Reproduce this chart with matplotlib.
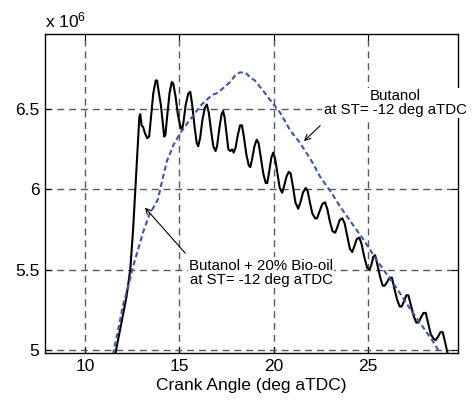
import numpy as np
import matplotlib
matplotlib.use("Agg")
import matplotlib.pyplot as plt

plt.rcParams['font.family'] = ['Liberation Sans', 'DejaVu Sans']
plt.rcParams['mathtext.fontset'] = 'custom'
plt.rcParams['mathtext.rm'] = 'Liberation Sans'
plt.rcParams['mathtext.it'] = 'Liberation Sans'

# Butanol + 20% Bio-oil (pressure, x 10^6)
blend_angle = [11.6, 11.9, 12.2, 12.4, 12.55, 12.68, 12.8, 12.88, 12.93, 13.0, 13.08, 13.18, 13.3, 13.4,
               13.5, 13.62, 13.75, 13.82, 13.92, 14.02, 14.1, 14.2, 14.26, 14.35, 14.48, 14.6, 14.68,
               14.8, 14.92, 15.04, 15.14, 15.22, 15.34, 15.48, 15.58, 15.68, 15.8, 15.92, 16.0, 16.1,
               16.22, 16.35, 16.46, 16.56, 16.68, 16.8, 16.92, 17.0, 17.12, 17.24, 17.32, 17.4, 17.5,
               17.6, 17.7, 17.8, 17.88, 17.98, 18.1, 18.22, 18.32, 18.42, 18.55, 18.68, 18.76, 18.86,
               18.98, 19.1, 19.2, 19.32, 19.45, 19.58, 19.66, 19.76, 19.88, 19.98, 20.08, 20.2, 20.32,
               20.45, 20.55, 20.68, 20.8, 20.9, 21.02, 21.15, 21.3, 21.42, 21.55, 21.7, 21.8, 21.92,
               22.05, 22.2, 22.3, 22.42, 22.58, 22.72, 22.84, 22.98, 23.12, 23.26, 23.36, 23.5, 23.64,
               23.76, 23.9, 24.04, 24.16, 24.26, 24.4, 24.54, 24.66, 24.8, 24.96, 25.08, 25.18, 25.28,
               25.38, 25.5, 25.65, 25.78, 25.88, 26.0, 26.14, 26.27, 26.4, 26.55, 26.68, 26.78, 26.9,
               27.03, 27.14, 27.27, 27.42, 27.56, 27.68, 27.8, 27.94, 28.06, 28.18, 28.32, 28.46,
               28.58, 28.7, 28.84, 28.96, 29.1, 29.25]
blend_p = [4.97, 5.15, 5.33, 5.50, 5.75, 6.02, 6.28, 6.45, 6.47, 6.40, 6.39, 6.35, 6.32, 6.33,
           6.45, 6.60, 6.68, 6.68, 6.60, 6.53, 6.44, 6.33, 6.34, 6.45, 6.60, 6.67, 6.66,
           6.58, 6.47, 6.40, 6.37, 6.42, 6.53, 6.60, 6.61, 6.53, 6.40, 6.29, 6.27, 6.32,
           6.43, 6.51, 6.53, 6.48, 6.37, 6.27, 6.24, 6.27, 6.38, 6.47, 6.49, 6.45, 6.35,
           6.25, 6.24, 6.25, 6.23, 6.26, 6.34, 6.40, 6.40, 6.33, 6.22, 6.15, 6.14, 6.19,
           6.27, 6.31, 6.29, 6.20, 6.10, 6.04, 6.04, 6.11, 6.20, 6.23, 6.19, 6.10, 6.01,
           5.98, 6.02, 6.08, 6.11, 6.10, 6.02, 5.92, 5.88, 5.92, 5.98, 6.01, 5.99, 5.92,
           5.85, 5.82, 5.82, 5.86, 5.91, 5.92, 5.88, 5.80, 5.74, 5.73, 5.76, 5.81, 5.82,
           5.79, 5.71, 5.63, 5.61, 5.64, 5.69, 5.70, 5.66, 5.58, 5.51, 5.50, 5.53, 5.58,
           5.59, 5.53, 5.45, 5.40, 5.40, 5.42, 5.45, 5.45, 5.38, 5.31, 5.27, 5.27, 5.30,
           5.34, 5.34, 5.28, 5.21, 5.17, 5.17, 5.20, 5.23, 5.23, 5.17, 5.10, 5.07,
           5.06, 5.08, 5.11, 5.11, 5.04, 4.96]

# Butanol
but_angle = [11.48, 11.75, 12.0, 12.3, 12.55, 12.8, 13.07, 13.4, 13.87, 14.1, 14.35, 14.7, 15.04,
             15.4, 15.73, 16.1, 16.45, 16.75, 16.98, 17.3, 17.69, 17.95, 18.2, 18.5, 18.75, 19.0,
             19.28, 19.55, 19.8, 20.34, 20.87, 21.4, 22.0, 22.46, 23.0, 23.6, 24.2, 24.8, 25.4,
             26.0, 26.6, 27.2, 27.8, 28.4, 28.82]
but_p = [4.97, 5.12, 5.27, 5.40, 5.52, 5.62, 5.73, 5.84, 5.94, 6.06, 6.18, 6.28, 6.35,
         6.41, 6.46, 6.52, 6.56, 6.59, 6.60, 6.63, 6.67, 6.71, 6.73, 6.73, 6.70, 6.68,
         6.64, 6.60, 6.56, 6.48, 6.37, 6.29, 6.18, 6.08, 5.99, 5.88, 5.78, 5.68, 5.57,
         5.47, 5.37, 5.26, 5.16, 5.06, 4.98]

xticks = [10, 15, 20, 25]
yticks = [5, 5.5, 6, 6.5]
ytick_labels = ['5', '5.5', '6', '6.5']

fig = plt.figure(figsize=(4.73, 4.0), dpi=100)
ax = fig.add_axes([0.0951, 0.1175, 0.8732, 0.7975])

ax.plot(blend_angle, blend_p, color='black', lw=1.5, zorder=3)
ax.plot(but_angle, but_p, color='#3a55b4', lw=1.5, linestyle=(0, (2.5, 1.5)), zorder=3)

ax.set_xlim(7.88, 29.77)
ax.set_ylim(4.98, 6.97)
ax.set_xticks(xticks)
ax.set_yticks(yticks)
ax.set_yticklabels(ytick_labels)
ax.tick_params(direction='in', top=True, right=True, length=4, labelsize=12.5, pad=4)
ax.grid(True, linestyle=(0, (5, 3.5)), color='0.35', lw=1)
ax.set_xlabel('Crank Angle (deg aTDC)', fontsize=12.5, labelpad=3)
for s in ax.spines.values():
    s.set_linewidth(1)

ax.text(0.0, 1.01, r'x 10$^{6}$', transform=ax.transAxes, fontsize=12.5, ha='left', va='bottom')

# annotations
ax.text(26.44, 6.54, 'Butanol\nat ST= -12 deg aTDC', fontsize=10.8, ha='center', va='center',
        linespacing=1.0, zorder=5, clip_on=False,
        bbox=dict(facecolor='white', edgecolor='none', pad=1))
ax.annotate('', xy=(21.5, 6.29), xytext=(22.57, 6.41),
            arrowprops=dict(arrowstyle='->', color='black', lw=0.8), zorder=4)

ax.text(19.33, 5.48, 'Butanol + 20% Bio-oil\nat ST= -12 deg aTDC', fontsize=10.8, ha='center',
        va='center', linespacing=1.0, zorder=5,
        bbox=dict(facecolor='white', edgecolor='none', pad=1))
ax.annotate('', xy=(13.08, 5.90), xytext=(15.41, 5.59),
            arrowprops=dict(arrowstyle='->', color='black', lw=0.8), zorder=4)

fig.savefig('out.png', dpi=100)
